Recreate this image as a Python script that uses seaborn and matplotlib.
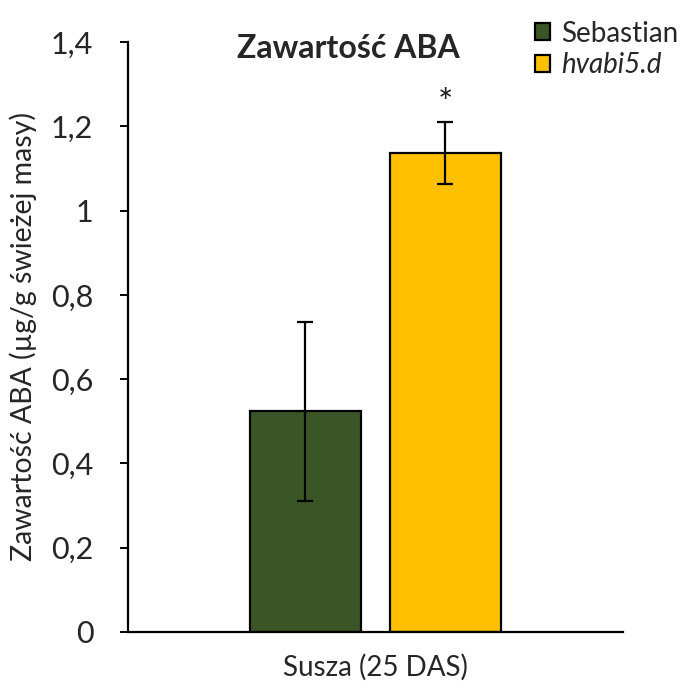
import matplotlib
matplotlib.use("Agg")
import matplotlib.pyplot as plt
import seaborn as sns
import pandas as pd
from matplotlib.patches import Patch

# Data
okres = ["Susza (25 DAS)"]
odmiany = ["Sebastian", "hvabi5.d"]
srednie = [0.524, 1.137]
bledy = [0.212, 0.073]
istotnosc = ["", "*"]
kolory = ["#3B5626", "#FFC000"]
yticks = [0, 0.2, 0.4, 0.6, 0.8, 1.0, 1.2, 1.4]
yticklabels = ["0", "0,2", "0,4", "0,6", "0,8", "1", "1,2", "1,4"]

sns.set_theme(style="white")
plt.rcParams["font.family"] = ["Lato", "DejaVu Sans"]

df = pd.DataFrame({
    "okres": okres * len(odmiany),
    "odmiana": odmiany,
    "aba": srednie,
})

fig = plt.figure(figsize=(6.89, 6.88), dpi=100)
ax = fig.add_axes([0.1858, 0.0814, 0.904 - 0.1858, 0.939 - 0.0814])

sns.barplot(data=df, x="okres", y="aba", hue="odmiana", hue_order=odmiany,
            palette=kolory, saturation=1, width=0.566, gap=0.207, errorbar=None,
            edgecolor="black", linewidth=1.6, legend=False, ax=ax)

# error bars and significance marks on top of each bar
bars = sorted(ax.patches, key=lambda p: p.get_x())
for bar, m, e, s in zip(bars, srednie, bledy, istotnosc):
    xc = bar.get_x() + bar.get_width() / 2
    ax.errorbar(xc, m, yerr=e, fmt="none", ecolor="black",
                elinewidth=1.6, capsize=6, capthick=1.6)
    if s:
        ax.text(xc, m + e + 0.003, s, ha="center", va="bottom",
                fontsize=26, color="#222222")

ax.set_xlim(-0.5, 0.5)
ax.set_ylim(0, 1.4)
ax.set_yticks(yticks)
ax.set_yticklabels(yticklabels)
ax.tick_params(axis="y", direction="out", length=6, width=1.4,
               labelsize=22, pad=19, color="black", left=True)
ax.tick_params(axis="x", length=0, labelsize=20, pad=16)
ax.set_xlabel("")
ax.set_ylabel("Zawartość ABA (µg/g świeżej masy)", fontsize=20.5, labelpad=10)

for side in ["top", "right"]:
    ax.spines[side].set_visible(False)
for side in ["left", "bottom"]:
    ax.spines[side].set_color("black")
    ax.spines[side].set_linewidth(1.6)

fig.text(0.505, 0.929, "Zawartość ABA", ha="center", va="center",
         fontsize=23, fontweight="bold")

# legend
handles = [Patch(facecolor=c, edgecolor="black", linewidth=1.6) for c in kolory]
leg = fig.legend(handles, odmiany, loc="upper left", bbox_to_anchor=(0.7765, 0.9702),
                 frameon=False, fontsize=20, handlelength=0.55, handleheight=0.55,
                 handletextpad=0.4, labelspacing=0.21, borderaxespad=0, borderpad=0)
leg.get_texts()[1].set_fontstyle("italic")

fig.savefig("out.png", dpi=100)
